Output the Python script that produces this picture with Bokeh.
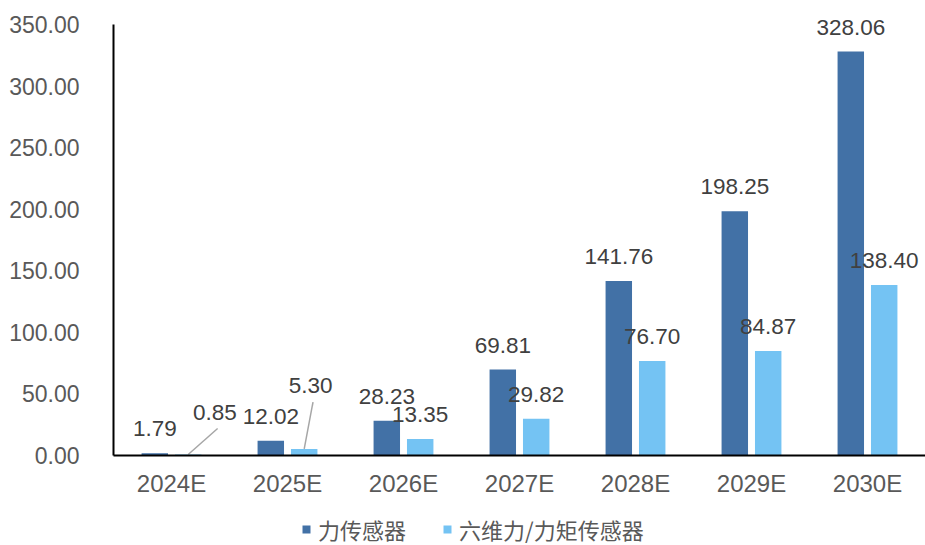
from bokeh.plotting import figure
from bokeh.layouts import column
from bokeh.models import (Range1d, FixedTicker, NumeralTickFormatter, ColumnDataSource,
                          Legend, LegendItem)
from bokeh.core.properties import value
from bokeh.embed import file_html
from bokeh.resources import INLINE

# ---- data ----
years = ["2024E", "2025E", "2026E", "2027E", "2028E", "2029E", "2030E"]
force = [1.79, 12.02, 28.23, 69.81, 141.76, 198.25, 328.06]
six_axis = [0.85, 5.30, 13.35, 29.82, 76.70, 84.87, 138.40]
series_names = ["力传感器", "六维力/力矩传感器"]
y_ticks = [0, 50, 100, 150, 200, 250, 300, 350]

# ---- layout constants ----
W, H, H_LEG = 925, 505, 40
LEFT, TOP_PAD = 113, 20
AXIS_TOP_PX = 24
FRAME_BOTTOM_PX = 455
FRAME_W = W - LEFT
Y_MAX = 350
PX_PER_UNIT = (FRAME_BOTTOM_PX - AXIS_TOP_PX) / Y_MAX
PX_PER_CAT = FRAME_W / len(years)
BAR_W = 0.228
OFF = 0.144
DARK = "#4271A6"
LIGHT = "#74C3F3"
LABEL_COLOR = "#404040"
TICK_COLOR = "#595959"
NUM_FONT = "Liberation Sans"
CJK_FONT = "Noto Sans CJK SC"

# label nudges (screen px) for crowded labels of the second series: index -> (dx, dy)
six_nudge = {0: (26.6, -42), 1: (6.5, -63.5)}
# leader line ends (screen px relative to bar top centre)
six_leader = {0: (29.4, -26), 1: (8.8, -46.8)}

idx = list(range(len(years)))

p = figure(width=W, height=H, output_backend="svg", toolbar_location=None,
           x_range=Range1d(-0.5, len(years) - 0.5),
           y_range=Range1d(0, Y_MAX + TOP_PAD / PX_PER_UNIT),
           min_border_left=LEFT, min_border_right=0,
           min_border_top=AXIS_TOP_PX - TOP_PAD,
           min_border_bottom=H - FRAME_BOTTOM_PX)
p.outline_line_color = None
p.xgrid.visible = False
p.ygrid.visible = False
p.background_fill_color = "white"
p.border_fill_color = "white"

x_dark = [i - OFF for i in idx]
x_light = [i + OFF for i in idx]

p.vbar(x=x_dark, top=force, width=BAR_W, fill_color=DARK, line_color=None)
p.vbar(x=x_light, top=six_axis, width=BAR_W, fill_color=LIGHT, line_color=None)

# leader lines
lx0, ly0, lx1, ly1 = [], [], [], []
for i, (dx, dy) in six_leader.items():
    lx0.append(x_light[i]); ly0.append(six_axis[i])
    lx1.append(x_light[i] + dx / PX_PER_CAT); ly1.append(six_axis[i] - dy / PX_PER_UNIT)
p.segment(x0=lx0, y0=ly0, x1=lx1, y1=ly1, line_color="#A6A6A6", line_width=1.5)

# value labels
src1 = ColumnDataSource(dict(x=x_dark, y=force, t=[f"{v:.2f}" for v in force],
                             xo=[0] * len(force), yo=[-24.5] * len(force)))
xo2 = [six_nudge.get(i, (0, -24.5))[0] for i in idx]
yo2 = [six_nudge.get(i, (0, -24.5))[1] for i in idx]
src2 = ColumnDataSource(dict(x=x_light, y=six_axis, t=[f"{v:.2f}" for v in six_axis],
                             xo=xo2, yo=yo2))
for s in (src1, src2):
    p.text(x="x", y="y", text="t", x_offset="xo", y_offset="yo", source=s,
           text_align="center", text_baseline="middle", text_color=LABEL_COLOR,
           text_font=value(NUM_FONT), text_font_size="22.5px")

# axes
p.yaxis.ticker = FixedTicker(ticks=y_ticks)
p.yaxis.formatter = NumeralTickFormatter(format="0.00")
p.yaxis.bounds = (0, Y_MAX)
p.xaxis.ticker = FixedTicker(ticks=idx)
p.xaxis.major_label_overrides = {i: y for i, y in zip(idx, years)}
for ax in (p.xaxis[0], p.yaxis[0]):
    ax.axis_line_color = "black"
    ax.axis_line_width = 2
    ax.major_tick_line_color = None
    ax.minor_tick_line_color = None
    ax.major_label_text_font = NUM_FONT
    ax.major_label_text_color = TICK_COLOR
p.yaxis.major_label_text_font_size = "23px"
p.xaxis.major_label_text_font_size = "24px"
p.yaxis.major_label_standoff = 28
p.xaxis.major_label_standoff = 8

# ---- legend strip below the chart (same series as proxies, not drawn) ----
pl = figure(width=W, height=H_LEG, output_backend="svg", toolbar_location=None,
            x_range=p.x_range, y_range=Range1d(5000, 5001),
            min_border_left=LEFT, min_border_right=0, min_border_top=0, min_border_bottom=0)
pl.axis.visible = False
pl.grid.visible = False
pl.outline_line_color = None
pl.border_fill_color = "white"
lr1 = pl.vbar(x=x_dark, top=force, width=BAR_W, fill_color=DARK, line_color=None)
lr2 = pl.vbar(x=x_light, top=six_axis, width=BAR_W, fill_color=LIGHT, line_color=None)
legend = Legend(items=[LegendItem(label=series_names[0], renderers=[lr1]),
                       LegendItem(label=series_names[1], renderers=[lr2])],
                orientation="horizontal", location=(188, 0),
                glyph_width=10, glyph_height=10, label_standoff=7, spacing=36,
                padding=0, margin=0, border_line_color=None, background_fill_alpha=0,
                label_height=10, label_text_line_height=1.0,
                label_text_font=CJK_FONT, label_text_font_size="22px",
                label_text_color=TICK_COLOR)
pl.add_layout(legend, "center")

layout = column(p, pl, spacing=0)
open("out.html", "w").write(file_html(layout, INLINE))
